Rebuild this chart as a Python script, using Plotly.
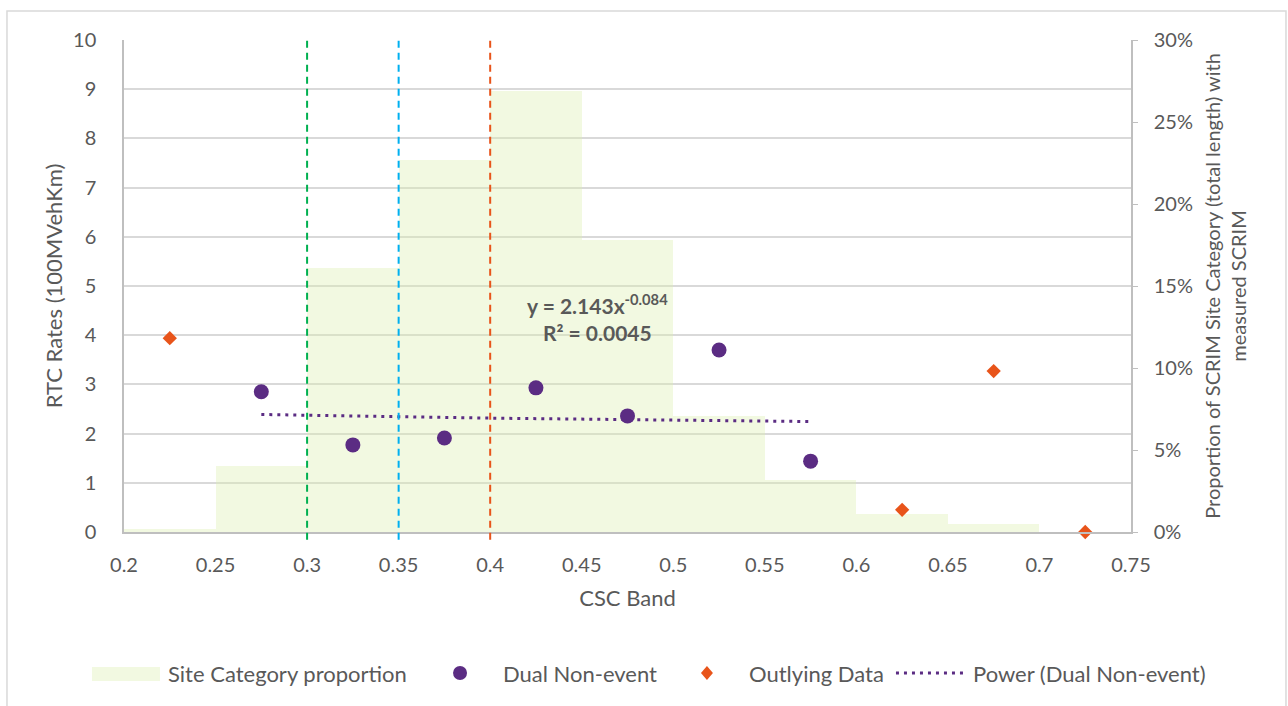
import plotly.graph_objects as go

# CSC band centres (bands are 0.05 wide)
band_centres = [0.225, 0.275, 0.325, 0.375, 0.425, 0.475, 0.525, 0.575, 0.625, 0.675, 0.725]
# Share of SCRIM site category length in each band
site_proportion = [0.002, 0.040, 0.161, 0.227, 0.269, 0.178, 0.071, 0.032, 0.011, 0.005, 0.0]

# RTC rates (per 100M veh-km)
dual_x = [0.275, 0.325, 0.375, 0.425, 0.475, 0.525, 0.575]
dual_y = [2.85, 1.77, 1.91, 2.93, 2.36, 3.70, 1.44]

outlier_x = [0.225, 0.625, 0.675, 0.725]
outlier_y = [3.94, 0.45, 3.27, 0.0]

# Power trend fitted to the dual non-event points: y = a * x^b
trend_a = 2.143
trend_b = -0.084
trend_r2 = 0.0045

# Threshold markers
thresholds = [0.30, 0.35, 0.40]
threshold_colours = ["#00B050", "#00B0F0", "#E8541A"]

x_ticks = [0.2, 0.25, 0.3, 0.35, 0.4, 0.45, 0.5, 0.55, 0.6, 0.65, 0.7, 0.75]
x_tick_text = ["0.2", "0.25", "0.3", "0.35", "0.4", "0.45", "0.5", "0.55", "0.6", "0.65", "0.7", "0.75"]

FONT = "Lato"
GREY = "#595959"
PURPLE = "#5B2C83"
ORANGE = "#E8541A"
BAR = "rgba(222,238,176,0.38)"
TXT = 22

n_steps = 30
x_lo, x_hi = min(dual_x), max(dual_x)
trend_x = [x_lo + (x_hi - x_lo) * i / n_steps for i in range(n_steps + 1)]
trend_y = [trend_a * xv ** trend_b for xv in trend_x]

fig = go.Figure()

fig.add_trace(go.Bar(
    x=band_centres, y=site_proportion, width=0.05,
    marker=dict(color=BAR, line=dict(width=0)),
    yaxis="y", name="Site Category proportion", showlegend=False,
))
fig.add_trace(go.Scatter(
    x=trend_x, y=trend_y, mode="lines", yaxis="y2",
    line=dict(color=PURPLE, width=3, dash="3px,5px"),
    name="Power (Dual Non-event)", showlegend=False,
))
fig.add_trace(go.Scatter(
    x=dual_x, y=dual_y, mode="markers", yaxis="y2",
    marker=dict(symbol="circle", size=15, color=PURPLE),
    name="Dual Non-event", showlegend=False, cliponaxis=False,
))
fig.add_trace(go.Scatter(
    x=outlier_x, y=outlier_y, mode="markers", yaxis="y2",
    marker=dict(symbol="diamond", size=11, color=ORANGE),
    name="Outlying Data", showlegend=False, cliponaxis=False,
))

shapes = []
for xv, col in zip(thresholds, threshold_colours):
    shapes.append(dict(
        type="line", xref="x", yref="paper", x0=xv, x1=xv,
        y0=-0.016, y1=1.0 if xv != 0.40 else 1.006,
        line=dict(color=col, width=2, dash="7px,5px"), layer="above",
    ))

# outer chart frame
shapes.append(dict(
    type="rect", xref="paper", yref="paper",
    x0=-0.1162, x1=1.1539, y0=-0.6, y1=1.0589,
    line=dict(color="#D9D9D9", width=1.5), layer="below",
))

# legend entries
leg_y = -0.2866
shapes.append(dict(type="rect", xref="paper", yref="paper",
                   x0=-0.0318, x1=0.0357, y0=-0.3028, y1=-0.2744,
                   fillcolor=BAR, line=dict(width=0)))
shapes.append(dict(type="circle", xref="paper", yref="paper",
                   xsizemode="pixel", ysizemode="pixel",
                   xanchor=0.3337, yanchor=leg_y,
                   x0=-7, x1=7, y0=-7, y1=7,
                   fillcolor=PURPLE, line=dict(width=0)))
shapes.append(dict(type="path", xref="paper", yref="paper",
                   xsizemode="pixel", ysizemode="pixel",
                   xanchor=0.5789, yanchor=leg_y,
                   path="M0,7 L6,0 L0,-7 L-6,0 Z",
                   fillcolor=ORANGE, line=dict(width=0)))
shapes.append(dict(type="line", xref="paper", yref="paper",
                   x0=0.7666, x1=0.8351, y0=leg_y, y1=leg_y,
                   line=dict(color=PURPLE, width=3, dash="3px,5px")))

legend_labels = [
    (0.0420, "Site Category proportion"),
    (0.3747, "Dual Non-event"),
    (0.6190, "Outlying Data"),
    (0.8414, "Power (Dual Non-event)"),
]
annotations = [
    dict(text=t, x=xp, y=leg_y, xref="paper", yref="paper",
         xanchor="left", yanchor="middle", showarrow=False,
         font=dict(family=FONT, size=TXT, color=GREY))
    for xp, t in legend_labels
]

annotations.append(dict(
    text=f"<b>y = {trend_a}x<sup>{trend_b}</sup></b><br><b>R² = {trend_r2}</b>",
    x=0.4585, y=4.37, xref="x", yref="y2", showarrow=False,
    xanchor="center", yanchor="middle", align="center",
    font=dict(family=FONT, size=21, color=GREY),
))

fig.update_layout(
    width=1288, height=706,
    margin=dict(l=124, r=157, t=40, b=174),
    paper_bgcolor="white", plot_bgcolor="white",
    font=dict(family=FONT, size=20, color=GREY),
    showlegend=False, bargap=0,
    xaxis=dict(
        range=[0.2, 0.75], tickvals=x_ticks, ticktext=x_tick_text,
        showgrid=False, zeroline=False,
        showline=True, linecolor="#BFBFBF", linewidth=1.5,
        ticks="", ticklabelstandoff=14,
        title=dict(text="CSC Band", standoff=16,
                   font=dict(family=FONT, size=TXT, color=GREY)),
        tickfont=dict(family=FONT, size=20, color=GREY),
    ),
    yaxis=dict(
        range=[0, 0.3], tickvals=[0, 0.05, 0.10, 0.15, 0.20, 0.25, 0.30],
        tickformat=".0%", side="right",
        showgrid=False, zeroline=False,
        showline=True, linecolor="#BFBFBF", linewidth=1.5,
        ticks="outside", ticklen=5, tickcolor="#BFBFBF",
        ticklabelstandoff=12,
        title=dict(text="Proportion of SCRIM Site Category (total length) with<br>measured SCRIM",
                   standoff=14, font=dict(family=FONT, size=20, color=GREY)),
        tickfont=dict(family=FONT, size=20, color=GREY),
    ),
    yaxis2=dict(
        range=[0, 10], dtick=1, overlaying="y", side="left", anchor="x",
        showgrid=True, gridcolor="#D9D9D9", gridwidth=1.5, zeroline=False,
        showline=True, linecolor="#BFBFBF", linewidth=1.5,
        ticks="", ticklabelstandoff=22,
        title=dict(text="RTC Rates (100MVehKm)", standoff=4,
                   font=dict(family=FONT, size=TXT, color=GREY)),
        tickfont=dict(family=FONT, size=20, color=GREY),
    ),
    shapes=shapes,
    annotations=annotations,
)

fig.write_html("out.html")
